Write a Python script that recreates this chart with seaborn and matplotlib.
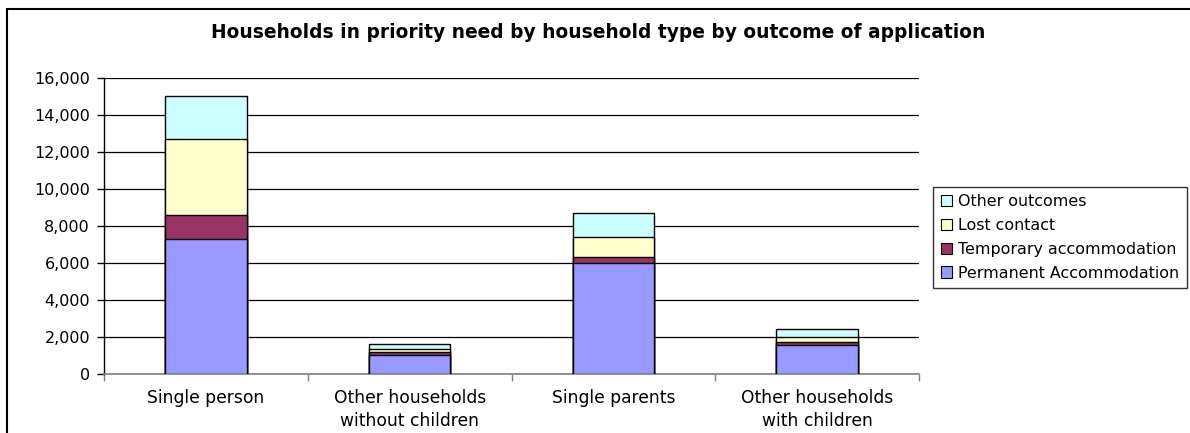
import matplotlib
matplotlib.use("Agg")
import matplotlib.pyplot as plt
from matplotlib.patches import Rectangle, Patch
import numpy as np
import pandas as pd
import seaborn as sns

# Household types and outcome counts
categories = ["Single person", "Other households\nwithout children",
              "Single parents", "Other households\nwith children"]
permanent = [7300, 1000, 6000, 1550]
temporary = [1300, 150, 300, 150]
lost_contact = [4100, 200, 1100, 250]
other_outcomes = [2300, 270, 1300, 450]

series_names = ["Permanent Accommodation", "Temporary accommodation",
                "Lost contact", "Other outcomes"]
series_values = [permanent, temporary, lost_contact, other_outcomes]
series_colors = ["#9999FF", "#993366", "#FFFFCC", "#CCFFFF"]
y_ticks = list(range(0, 16001, 2000))

sns.set_theme(style="white")
plt.rcParams["font.family"] = ["DejaVu Sans"]
plt.rcParams["text.color"] = "black"
plt.rcParams["xtick.color"] = "black"
plt.rcParams["ytick.color"] = "black"

# Cumulative stack heights, drawn from the top layer downwards
rows = []
cum = np.zeros(len(categories))
for name, vals in zip(series_names, series_values):
    cum = cum + np.array(vals, dtype=float)
    for cat, v in zip(categories, cum):
        rows.append({"category": cat, "series": name, "top": v})
df = pd.DataFrame(rows)

fig = plt.figure(figsize=(11.9, 4.33), dpi=100)
W, H = 1190, 433
ax = fig.add_axes([104 / W, 1 - 373.5 / H, (919 - 104) / W, (373.5 - 77.7) / H])

for name, color in reversed(list(zip(series_names, series_colors))):
    sub = df[df["series"] == name]
    sns.barplot(data=sub, x="category", y="top", order=categories, color=color,
                width=0.4, edgecolor="black", linewidth=1.0, saturation=1,
                ax=ax, zorder=3)

ax.set_xlim(-0.5, 3.5)
ax.set_ylim(0, 16000)
ax.set_yticks(y_ticks)
ax.set_yticklabels([f"{v:,}" for v in y_ticks], fontsize=11.5, color="black")
ax.yaxis.grid(True, color="black", linewidth=0.9)
ax.set_axisbelow(True)
ax.set_xlabel("")
ax.set_ylabel("")

ax.set_xticks(range(len(categories)))
ax.set_xticklabels(categories, fontsize=12.3, linespacing=1.35, color="black")
ax.tick_params(axis="x", which="major", length=0, pad=11)
ax.set_xticks(np.arange(-0.5, 3.6, 1.0), minor=True)
ax.tick_params(axis="x", which="minor", length=5, width=1, color="#808080", bottom=True)
ax.tick_params(axis="y", which="major", length=5, width=1, color="black", left=True, pad=5)

for side in ["top", "right"]:
    ax.spines[side].set_visible(False)
ax.spines["left"].set_color("black")
ax.spines["left"].set_linewidth(1.0)
ax.spines["bottom"].set_color("#808080")
ax.spines["bottom"].set_linewidth(1.2)

fig.text(598 / W, 1 - 33 / H, "Households in priority need by household type by outcome of application",
         ha="center", va="center", fontsize=13.4, fontweight="bold", color="black")

# Legend, top entry first
handles = [Patch(facecolor=c, edgecolor="black", linewidth=0.8, label=n)
           for n, c in reversed(list(zip(series_names, series_colors)))]
leg = fig.legend(handles=handles, loc="center left",
                 bbox_to_anchor=(933 / W, 1 - 237.5 / H),
                 frameon=True, fancybox=False, fontsize=11.4,
                 handlelength=0.7, handleheight=0.7, handletextpad=0.4,
                 labelspacing=0.55, borderpad=0.5, borderaxespad=0)
leg.get_frame().set_edgecolor("black")
leg.get_frame().set_linewidth(1.0)
for t in leg.get_texts():
    t.set_color("black")

# Chart frame (runs past the right and bottom edges)
fig.patches.append(Rectangle((7 / W, -0.05), 1.1, 1.05 - 9 / H,
                             transform=fig.transFigure, fill=False,
                             edgecolor="black", linewidth=1.5))

fig.savefig("out.png", dpi=100)
